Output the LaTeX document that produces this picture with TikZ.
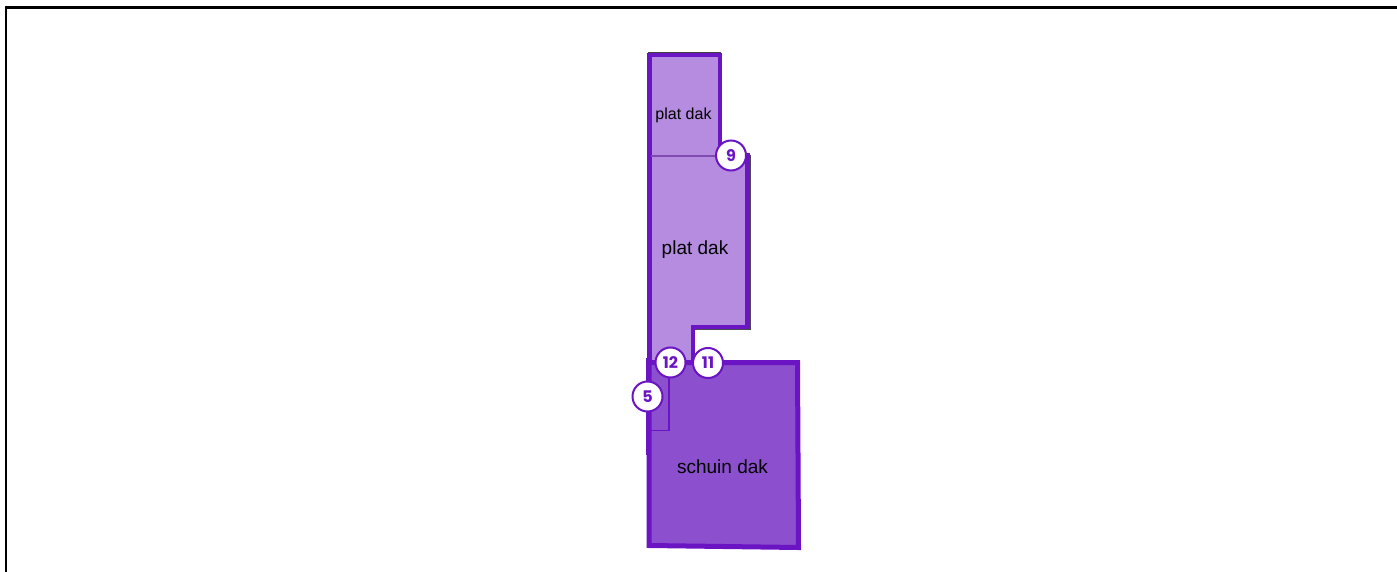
\documentclass[tikz,border=0pt]{standalone}
\usepackage{fontspec}
\setmainfont{Liberation Sans}
\newfontfamily\badgefont{Poppins}
\definecolor{edgepurple}{HTML}{6A14C4}
\definecolor{lightfill}{HTML}{B58CE0}
\definecolor{darkfill}{HTML}{8C4FCD}
\definecolor{seam}{HTML}{7F4BB0}
\tikzset{
  x=1pt,y=-1pt,
  badge/.style={circle,draw=edgepurple,fill=white,line width=2pt,minimum size=30pt,inner sep=0pt,text=edgepurple,font=\badgefont\fontsize{16}{16}\selectfont\bfseries},
  lbl/.style={text=black,inner sep=0pt},
  roof/.style={draw=edgepurple,line join=miter}
}
\begin{document}
\begin{tikzpicture}
\useasboundingbox (0,0) rectangle (1397,572);
\fill[white] (0,0) rectangle (1397,572);
% frame
\draw[black,line width=2.6pt] (6,572) -- (6,7.3) -- (1397,7.3);
% top shadow line
\draw[black!75,line width=1.5pt] (648,52.5) -- (721,52.5);
% upper flat roofs
\path[roof,fill=lightfill,line width=4.5pt] (649.5,55) -- (720,55) -- (720,155) -- (747.5,155) -- (747.5,327) -- (693,327) -- (693,362) -- (649.5,362) -- cycle;
\draw[seam,line width=2pt] (651,156.5) -- (720,156.5);
% black shadow on notch
\draw[black!70,line width=1pt] (695,329) -- (750,329) -- (750,155);
\path[roof,line width=3.5pt] (693,327) -- (747.5,327) -- (747.5,155);
% pitched roof
\path[roof,fill=darkfill,line width=5pt] (649,362.5) -- (797.5,362.5) -- (798.5,547.5) -- (649,545.5) -- cycle;
% small part
\draw[edgepurple,line width=1.8pt] (669,362) -- (669,430.5) -- (650,430.5);
\draw[edgepurple,line width=5.5pt] (648.5,358) -- (648.5,455);
% labels
\node[lbl,font=\fontsize{16}{16}\selectfont] (a) at (683.5,115) {plat dak};
\node[lbl,font=\fontsize{19}{19}\selectfont] (b) at (695,250) {plat dak};
\node[lbl,font=\fontsize{19}{19}\selectfont] (c) at (722.5,466.5) {schuin dak};
% badges
\node[badge] (n9) at (731,155.5) {9};
\node[badge] (n12) at (670.5,362.5) {12};
\node[badge] (n11) at (708,363) {11};
\node[badge] (n5) at (647.5,396.5) {5};
\end{tikzpicture}
\end{document}
